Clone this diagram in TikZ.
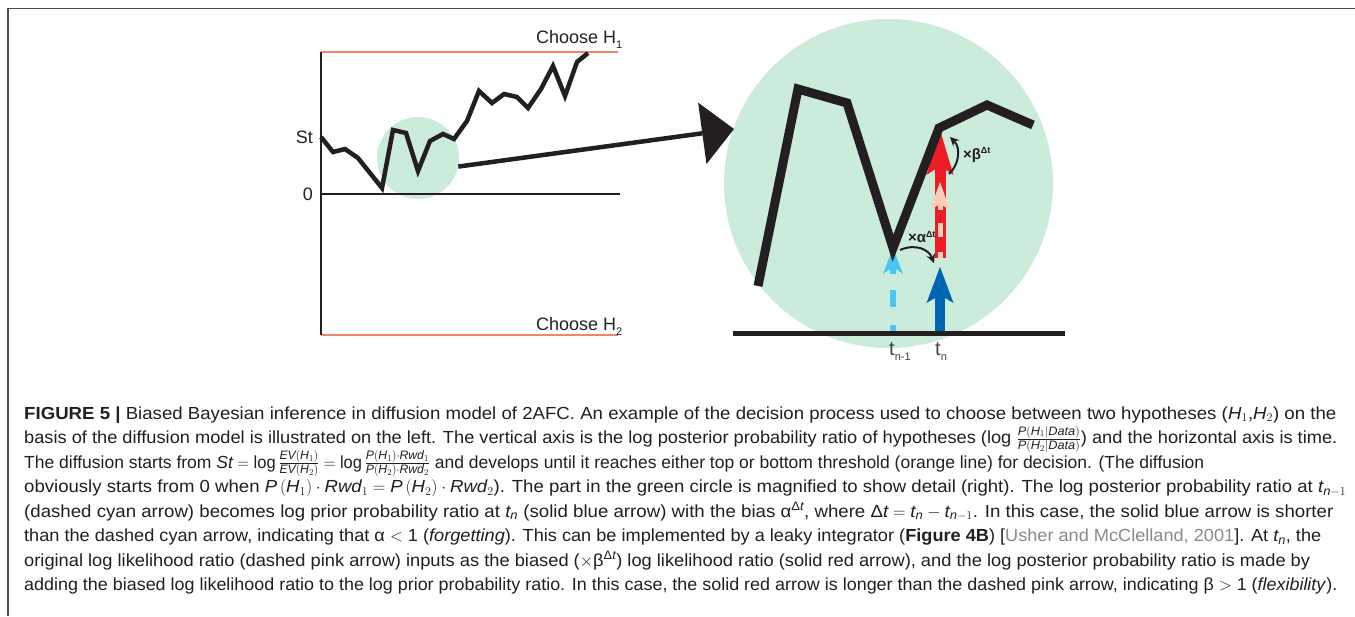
\documentclass[tikz,border=0pt]{standalone}
\usepackage{amsmath}
\usepackage{graphicx}
\usepackage{fontspec}
\setmainfont{Liberation Sans}
\newfontfamily\capfont[FakeStretch=1.06]{Liberation Sans}
\setmathrm{Liberation Sans}
\usetikzlibrary{arrows.meta}
\definecolor{ink}{HTML}{231F20}
\definecolor{mint}{HTML}{CBEBDB}
\definecolor{thrc}{HTML}{F4836B}
\definecolor{cyanc}{HTML}{4BC6F0}
\definecolor{bluec}{HTML}{0065B0}
\definecolor{redc}{HTML}{ED1C24}
\definecolor{pinkc}{HTML}{F9CDB6}
\definecolor{citec}{HTML}{8A8A8A}
\definecolor{framec}{HTML}{4D4D4D}
\newcommand\vi[1]{\text{\itshape #1}}
\newcommand\lab[1]{\fontsize{18}{20}\selectfont #1}
\newcommand\sub[1]{\raisebox{-5pt}{\fontsize{11}{11}\selectfont #1}}
\newcommand\fitw[2]{\resizebox{#1pt}{\height}{#2}}
\begin{document}
\begin{tikzpicture}[x=1pt,y=-1pt,
  thr/.style={thrc,line width=2pt},
  axisline/.style={ink,line width=2.6pt},
  walk/.style={ink,line width=4.5pt,line join=miter},
  bigwalk/.style={ink,line width=9pt,line join=miter},
  zoomline/.style={ink,line width=4.5pt,-{Triangle[length=32pt,width=62pt,line width=0pt]}},
  curv/.style={ink,line width=2pt,-{Stealth[length=9pt,width=9pt,line width=0pt]}},
  lbl/.style={inner sep=0pt,text=ink,font=\lab},
  capline/.style={anchor=base west,inner sep=0pt,text=ink,font=\capfont\fontsize{17.5}{20}\selectfont},
  greek/.style={inner sep=0pt,text=ink,font=\bfseries\fontsize{15}{15}\selectfont}]
\useasboundingbox (0,0) rectangle (1355,616);
\fill[white] (0,0) rectangle (1355,616);
\draw[framec,line width=1.4pt] (8,616) -- (8,8.5) -- (1355,8.5);

% ---------- left plot ----------
\node[circle,fill=mint,minimum size=82pt,inner sep=0pt] (zsrc) at (418,158) {};
\coordinate (axtop) at (321,52);
\coordinate (axbot) at (321,335);
\coordinate (thrA) at (618,52);
\coordinate (thrB) at (618,335);
\coordinate (zeroL) at (321,194);
\coordinate (zeroR) at (620,194);
\draw[thr] (axtop) -- (thrA);
\draw[thr] (axbot) -- (thrB);
\draw[axisline] (axtop) -- (axbot);
\draw[ink,line width=2pt] (zeroL) -- (zeroR);
\draw[walk] (321,137) -- (333,152) -- (345,149) -- (358,158) -- (382,188) -- (393,130) -- (406,133)
  -- (418,171) -- (430,141) -- (443,134) -- (454,139) -- (467,121) -- (479,91) -- (492,103)
  -- (504,94) -- (517,97) -- (528,108) -- (541,89) -- (553,66) -- (565,96) -- (577,62) -- (588,53);
\node[lbl,anchor=base west] (ch1) at (536,43) {Choose H\sub{1}};
\node[lbl,anchor=base west] (ch2) at (536,330) {Choose H\sub{2}};
\node[lbl,anchor=base east] (st) at (313,143) {St};
\node[lbl,anchor=base east] (zero) at (313,200) {0};

% ---------- right panel ----------
\node[circle,fill=mint,minimum size=329pt,inner sep=0pt] (zdst) at (888.5,183.5) {};
\coordinate (bigtip) at (734,129);
\draw[zoomline] (zsrc.-12) -- (bigtip);
\coordinate (taxL) at (733,333);
\coordinate (taxR) at (1065,333);
\coordinate (tnm) at (893,333);
\coordinate (tn) at (940,333);
\coordinate (cyanbase) at (893,274);
\coordinate (cyantip) at (893,248);
\coordinate (bluetip) at (940,267);
\coordinate (redbase) at (940,258);
\coordinate (redtip) at (940,130);
\coordinate (pinkmid) at (940,212);
\coordinate (pinkbase) at (940,210);
\coordinate (pinktip) at (940,182);
\draw[cyanc,line width=6pt,dash pattern=on 8pt off 18pt on 17pt off 40pt] (tnm) -- (cyanbase);
\draw[cyanc,line width=6pt,-{Stealth[length=26pt,width=20pt,inset=7pt,line width=0pt]}] (cyanbase) -- (cyantip);
\draw[bluec,line width=10pt,-{Stealth[length=36pt,width=27pt,inset=8pt,line width=0pt]}] (tn) -- (bluetip);
\draw[redc,line width=11pt,-{Stealth[length=45pt,width=27pt,inset=9pt,line width=0pt]}] (redbase) -- (redtip);
\draw[pinkc,line width=5pt,dash pattern=on 6pt off 15pt on 14pt off 40pt] (redbase) -- (pinkmid);
\draw[pinkc,line width=5pt,-{Stealth[length=28pt,width=20pt,inset=6pt,line width=0pt]}] (pinkbase) -- (pinktip);
\draw[ink,line width=5pt] (taxL) -- (taxR);
\draw[bigwalk] (758,286) -- (798,89) -- (847,103) -- (893,248) -- (939,128) -- (987,105) -- (1033,125);
\coordinate (aS) at (900,250);
\coordinate (aE) at (934,263);
\draw[curv] (aS) .. controls (916,243) and (929,250) .. (aE);
\coordinate (bS) at (949,174);
\coordinate (bE) at (950,137);
\draw[curv] (bS) .. controls (959,165) and (961,148) .. (bE);
\node[greek] (alab) at (922,237) {×α\textsuperscript{\fontsize{9}{9}\selectfont Δt}};
\node[greek] (blab) at (977,155) {×β\textsuperscript{\fontsize{9}{9}\selectfont Δt}};
\node[lbl,anchor=base west,text=ink!85] (tlab1) at (889,355) {\fontsize{20}{20}\selectfont t\sub{n-1}};
\node[lbl,anchor=base west,text=ink!85] (tlab2) at (935,355) {\fontsize{20}{20}\selectfont t\sub{n}};

% ---------- caption ----------
\node[capline] (c1) at (24,419) {\fitw{1312}{{\bfseries FIGURE 5 |} Biased Bayesian inference in diffusion model of 2AFC. An example of the decision process used to choose between two hypotheses ($\vi{H}_1$,$\vi{H}_2$) on the}};
\node[capline] (c2) at (24,443.5) {\fitw{1313}{basis of the diffusion model is illustrated on the left. The vertical axis is the log posterior probability ratio of hypotheses (log $\frac{\vi{P}(\vi{H}_1|\vi{Data})}{\vi{P}(\vi{H}_2|\vi{Data})}$) and the horizontal axis is time.}};
\node[capline] (c3) at (24,468) {\fitw{1180}{The diffusion starts from $\vi{St}=\log\frac{\vi{EV}(\vi{H}_1)}{\vi{EV}(\vi{H}_2)}=\log\frac{\vi{P}(\vi{H}_1)\cdot\vi{Rwd}_1}{\vi{P}(\vi{H}_2)\cdot\vi{Rwd}_2}$ and develops until it reaches either top or bottom threshold (orange line) for decision. (The diffusion}};
\node[capline] (c4) at (24,492.5) {\fitw{1322}{obviously starts from 0 when $\vi{P}\left(\vi{H}_1\right)\cdot\vi{Rwd}_1=\vi{P}\left(\vi{H}_2\right)\cdot\vi{Rwd}_2$). The part in the green circle is magnified to show detail (right). The log posterior probability ratio at $\vi{t}_{\vi{n}-1}$}};
\node[capline] (c5) at (24,517) {\fitw{1309}{(dashed cyan arrow) becomes log prior probability ratio at $\vi{t}_{\vi{n}}$ (solid blue arrow) with the bias α$^{\text{Δ}\vi{t}}$, where $\text{Δ}\vi{t}=\vi{t}_{\vi{n}}-\vi{t}_{\vi{n}-1}$. In this case, the solid blue arrow is shorter}};
\node[capline] (c6) at (24,541.5) {\fitw{1297}{than the dashed cyan arrow, indicating that α $<$ 1 (\textit{forgetting}). This can be implemented by a leaky integrator (\textbf{Figure 4B}) [\textcolor{citec}{Usher and McClelland, 2001}]. At $\vi{t}_{\vi{n}}$, the}};
\node[capline] (c7) at (24,566) {\fitw{1286}{original log likelihood ratio (dashed pink arrow) inputs as the biased ($\times$β$^{\text{Δ}\vi{t}}$) log likelihood ratio (solid red arrow), and the log posterior probability ratio is made by}};
\node[capline] (c8) at (24,590.5) {\fitw{1313}{adding the biased log likelihood ratio to the log prior probability ratio. In this case, the solid red arrow is longer than the dashed pink arrow, indicating β $>$ 1 (\textit{flexibility}).}};
\end{tikzpicture}
\end{document}
